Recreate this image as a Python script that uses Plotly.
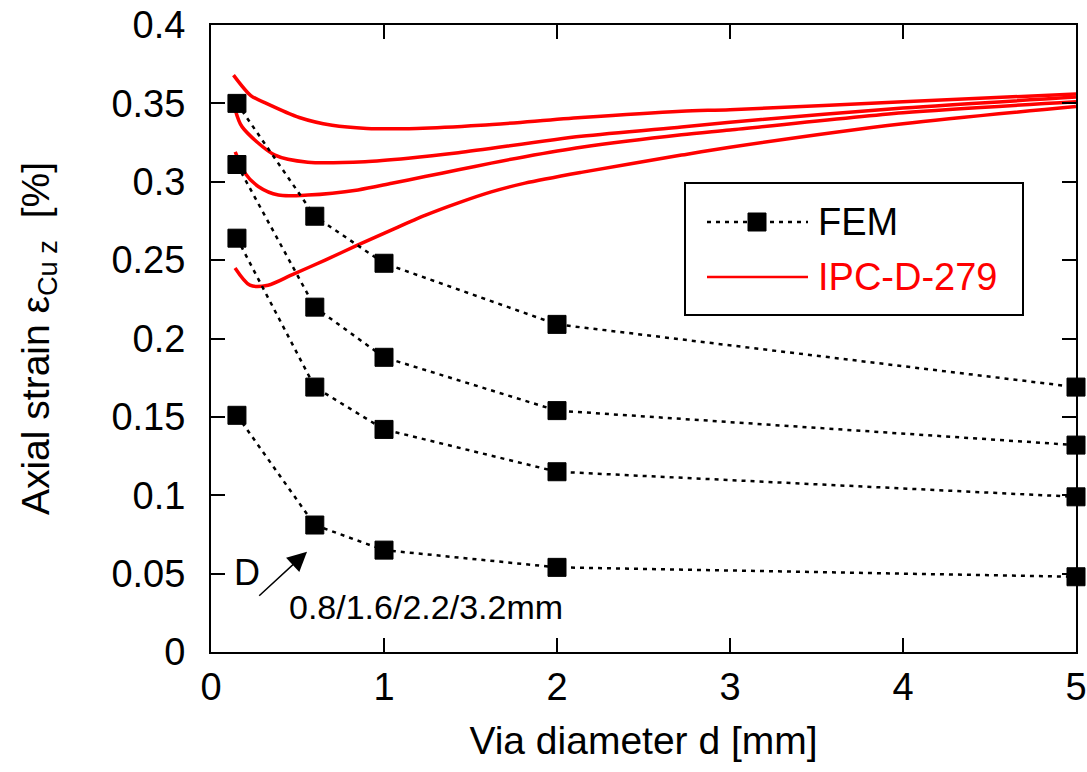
import plotly.graph_objects as go

# ---------------- data ----------------
fem_x = [0.15, 0.6, 1.0, 2.0, 5.0]
fem_s1 = [0.350, 0.278, 0.248, 0.209, 0.169]
fem_s2 = [0.311, 0.220, 0.188, 0.154, 0.132]
fem_s3 = [0.264, 0.169, 0.142, 0.115, 0.099]
fem_s4 = [0.151, 0.081, 0.065, 0.054, 0.048]

ipc_a_x = [0.13, 0.23, 0.32, 0.51, 0.70, 0.90, 1.19, 1.56, 2.14, 2.72, 3.0, 4.0, 5.0]
ipc_a_y = [0.368, 0.355, 0.350, 0.341, 0.336, 0.334, 0.334, 0.336, 0.341, 0.345, 0.346, 0.351, 0.356]
ipc_b_x = [0.14, 0.18, 0.37, 0.56, 0.89, 1.14, 1.43, 2.14, 2.72, 3.0, 4.0, 5.0]
ipc_b_y = [0.346, 0.335, 0.317, 0.3125, 0.3128, 0.315, 0.3185, 0.329, 0.335, 0.338, 0.347, 0.354]
ipc_c_x = [0.14, 0.197, 0.273, 0.39, 0.56, 0.85, 1.045, 1.237, 1.43, 1.62, 1.815, 2.14, 2.72, 3.0, 4.0, 5.0]
ipc_c_y = [0.319, 0.3055, 0.297, 0.2915, 0.2915, 0.2948, 0.299, 0.3033, 0.3076, 0.3119, 0.316, 0.322, 0.330, 0.333, 0.344, 0.351]
ipc_d_x = [0.139, 0.225, 0.33, 0.467, 0.66, 0.85, 1.045, 1.237, 1.43, 1.62, 1.815, 2.14, 2.72, 3.0, 4.0, 5.0]
ipc_d_y = [0.245, 0.234, 0.234, 0.2406, 0.250, 0.2597, 0.2693, 0.2785, 0.2865, 0.2935, 0.2991, 0.306, 0.317, 0.322, 0.337, 0.348]

x_ticks = [0, 1, 2, 3, 4, 5]
y_ticks = [0, 0.05, 0.1, 0.15, 0.2, 0.25, 0.3, 0.35, 0.4]
y_tick_text = ["0", "0.05", "0.1", "0.15", "0.2", "0.25", "0.3", "0.35", "0.4"]

FONT = "Liberation Sans, Arial, sans-serif"
RED = "#ff0000"

fig = go.Figure()

for xs, ys in [(ipc_a_x, ipc_a_y), (ipc_b_x, ipc_b_y), (ipc_c_x, ipc_c_y), (ipc_d_x, ipc_d_y)]:
    fig.add_trace(go.Scatter(
        x=xs, y=ys, mode="lines",
        line=dict(color=RED, width=3.5, shape="spline", smoothing=0.8),
        showlegend=False, hoverinfo="skip"))

for ys in [fem_s1, fem_s2, fem_s3, fem_s4]:
    fig.add_trace(go.Scatter(
        x=fem_x, y=ys, mode="lines+markers",
        line=dict(color="black", width=2.5, dash="4px,5px"),
        marker=dict(symbol="square", size=18, color="black",
                    line=dict(color="black", width=1)),
        cliponaxis=False, showlegend=False))

# ---------------- manual legend ----------------
def px_x(p):
    return (p - 211) / 865.0

def px_y(p):
    return (652 - p) / 627.0

shapes = [
    dict(type="rect", xref="paper", yref="paper",
         x0=px_x(685), x1=px_x(1023), y0=px_y(315), y1=px_y(183),
         line=dict(color="black", width=2), fillcolor="white", layer="above"),
    dict(type="line", xref="paper", yref="paper",
         x0=px_x(707), x1=px_x(808), y0=px_y(222), y1=px_y(222),
         line=dict(color="black", width=2.5, dash="4px,5px"), layer="above"),
    dict(type="rect", xref="paper", yref="paper",
         x0=px_x(748), x1=px_x(766), y0=px_y(231), y1=px_y(213),
         line=dict(color="black", width=1), fillcolor="black", layer="above"),
    dict(type="line", xref="paper", yref="paper",
         x0=px_x(707), x1=px_x(808), y0=px_y(277), y1=px_y(277),
         line=dict(color=RED, width=2.5), layer="above"),
]

annotations = [
    dict(xref="paper", yref="paper", x=px_x(816), y=px_y(222), text="FEM",
         showarrow=False, xanchor="left", yanchor="middle",
         font=dict(family=FONT, size=38, color="black")),
    dict(xref="paper", yref="paper", x=px_x(816), y=px_y(277), text="IPC-D-279",
         showarrow=False, xanchor="left", yanchor="middle",
         font=dict(family=FONT, size=38, color=RED)),
    dict(x=0.21, y=0.051, text="D", showarrow=False,
         font=dict(family=FONT, size=36, color="black")),
    dict(x=0.555, y=0.064, ax=0.27, ay=0.035, axref="x", ayref="y",
         text="", showarrow=True, arrowhead=2, arrowsize=2.6, arrowwidth=1.5,
         arrowcolor="black"),
    dict(x=1.24, y=0.029, text="0.8/1.6/2.2/3.2mm", showarrow=False,
         font=dict(family=FONT, size=34, color="black")),
]

fig.update_layout(
    width=1087, height=772,
    margin=dict(l=211, r=11, t=25, b=120, autoexpand=False),
    paper_bgcolor="white", plot_bgcolor="white",
    font=dict(family=FONT, size=38, color="black"),
    shapes=shapes, annotations=annotations,
    showlegend=False,
)

fig.update_xaxes(
    range=[0, 5], tickvals=x_ticks, ticktext=[str(v) for v in x_ticks],
    ticks="inside", ticklen=14, tickwidth=2, tickcolor="black",
    showline=True, linecolor="black", linewidth=2, mirror="ticks",
    showgrid=False, zeroline=False, automargin=False,
    tickfont=dict(family=FONT, size=38, color="black"),
    title=dict(text="Via diameter d [mm]", font=dict(family=FONT, size=39, color="black"), standoff=20),
)
fig.update_yaxes(
    range=[0, 0.4], tickvals=y_ticks, ticktext=y_tick_text,
    ticks="inside", ticklen=14, tickwidth=2, tickcolor="black",
    showline=True, linecolor="black", linewidth=2, mirror="ticks",
    showgrid=False, zeroline=False, automargin=False,
    tickfont=dict(family=FONT, size=38, color="black"),
    ticklabelstandoff=16,
    title=dict(text="Axial strain ε<sub>Cu z</sub>  [%]", font=dict(family=FONT, size=39, color="black"), standoff=50),
)

fig.write_html("out.html")
